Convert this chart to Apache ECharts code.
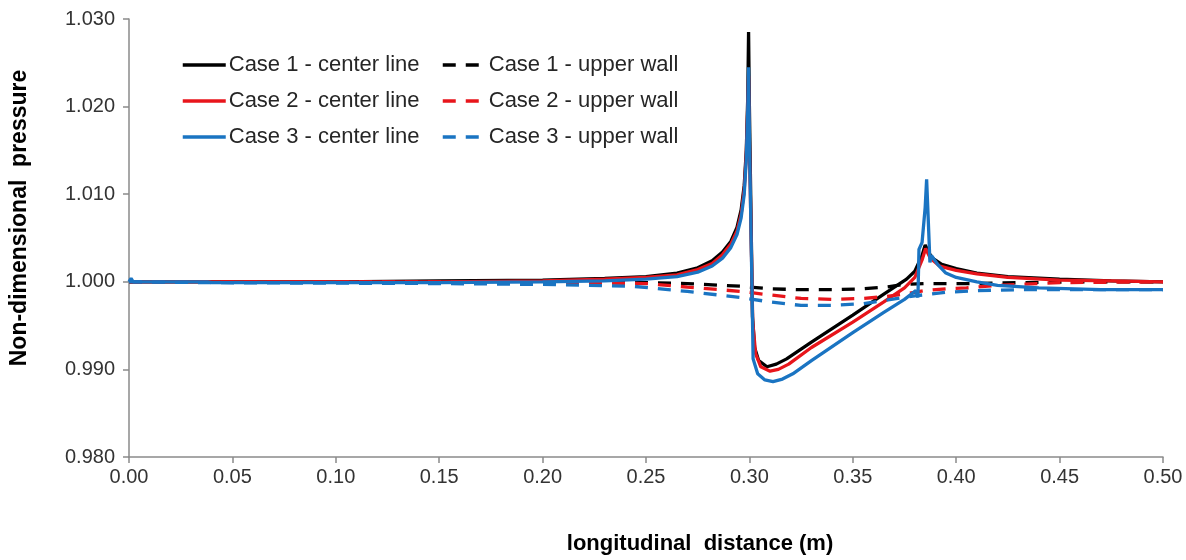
<!DOCTYPE html>
<html>
<head>
<meta charset="utf-8">
<script src="https://cdn.jsdelivr.net/npm/echarts@6/dist/echarts.min.js"></script>
<style>
  html, body { margin: 0; padding: 0; background: #fff; }
  #chart { width: 1186px; height: 560px; }
</style>
</head>
<body>
<div id="chart"></div>
<script>
// x positions (m) and non-dimensional pressure
var c1X = [0, 0.05, 0.10, 0.15, 0.20, 0.23, 0.25, 0.265, 0.275, 0.282, 0.287, 0.291, 0.294, 0.296, 0.2975, 0.2985, 0.2992, 0.2996, 0.3000, 0.3015, 0.3025, 0.3045, 0.3085, 0.3130, 0.318, 0.33, 0.35, 0.365, 0.376, 0.380, 0.3835, 0.385, 0.388, 0.393, 0.40, 0.41, 0.425, 0.45, 0.475, 0.50];
var c1Y = [1.0000, 1.0000, 1.0000, 1.0001, 1.0002, 1.0004, 1.0006, 1.0010, 1.0016, 1.0024, 1.0034, 1.0046, 1.0062, 1.0082, 1.0110, 1.0150, 1.0210, 1.0285, 1.0200, 0.9960, 0.9925, 0.9910, 0.9903, 0.9906, 0.9912, 0.9931, 0.9962, 0.9986, 1.0003, 1.0012, 1.0030, 1.0042, 1.0028, 1.0020, 1.0015, 1.0010, 1.0006, 1.0003, 1.0001, 1.0000];

var c2X = [0, 0.05, 0.10, 0.15, 0.20, 0.23, 0.25, 0.265, 0.275, 0.282, 0.287, 0.291, 0.294, 0.296, 0.2975, 0.2985, 0.2992, 0.2996, 0.3000, 0.3016, 0.3030, 0.3055, 0.3100, 0.3140, 0.319, 0.33, 0.35, 0.365, 0.375, 0.380, 0.3835, 0.3852, 0.3875, 0.392, 0.40, 0.41, 0.425, 0.45, 0.475, 0.50];
var c2Y = [1.0000, 1.0000, 1.0000, 1.0000, 1.0001, 1.0003, 1.0005, 1.0008, 1.0014, 1.0021, 1.0031, 1.0043, 1.0058, 1.0077, 1.0105, 1.0145, 1.0200, 1.0235, 1.0160, 0.9955, 0.9918, 0.9903, 0.9898, 0.9900, 0.9906, 0.9925, 0.9954, 0.9977, 0.9993, 1.0005, 1.0025, 1.0038, 1.0027, 1.0018, 1.0013, 1.0009, 1.0005, 1.0002, 1.0001, 1.0000];

var c3X = [0, 0.001, 0.002, 0.038, 0.040, 0.15, 0.20, 0.23, 0.25, 0.265, 0.275, 0.282, 0.287, 0.291, 0.294, 0.296, 0.2975, 0.2985, 0.2992, 0.2996, 0.3001, 0.3012, 0.3018, 0.3040, 0.3075, 0.3114, 0.3160, 0.3210, 0.33, 0.35, 0.365, 0.375, 0.3805, 0.3815, 0.3820, 0.3835, 0.3850, 0.3857, 0.3865, 0.3870, 0.3873, 0.3880, 0.391, 0.395, 0.40, 0.41, 0.42, 0.44, 0.47, 0.50];
var c3Y = [1.0000, 1.0004, 1.0000, 1.0000, 0.9999, 0.9999, 1.0000, 1.0001, 1.0003, 1.0006, 1.0011, 1.0018, 1.0027, 1.0039, 1.0054, 1.0073, 1.0100, 1.0140, 1.0195, 1.0245, 1.0150, 1.0000, 0.9912, 0.9895, 0.9888, 0.9886, 0.9889, 0.9895, 0.9910, 0.9942, 0.9965, 0.9980, 0.9990, 0.9982, 1.0037, 1.0045, 1.0085, 1.0117, 1.0070, 1.0040, 1.0022, 1.0030, 1.0020, 1.0010, 1.0005, 1.0000, 0.9996, 0.9993, 0.9991, 0.9991];

var w1X = [0, 0.15, 0.22, 0.25, 0.27, 0.2955, 0.31, 0.325, 0.34, 0.355, 0.366, 0.375, 0.385, 0.395, 0.41, 0.43, 0.46, 0.50];
var w1Y = [1.0000, 1.0000, 0.9999, 0.9999, 0.9998, 0.9995, 0.9992, 0.9991, 0.9991, 0.9992, 0.9994, 0.9997, 0.9998, 0.9998, 0.9998, 0.9999, 1.0000, 1.0000];

var w2X = [0, 0.15, 0.22, 0.25, 0.27, 0.296, 0.31, 0.325, 0.34, 0.355, 0.365, 0.375, 0.385, 0.395, 0.405, 0.42, 0.45, 0.50];
var w2Y = [1.0000, 1.0000, 0.9999, 0.9998, 0.9994, 0.9989, 0.9985, 0.9981, 0.9980, 0.9981, 0.9983, 0.9986, 0.9990, 0.9992, 0.9993, 0.9996, 0.9999, 1.0000];

var w3X = [0, 0.04, 0.15, 0.20, 0.243, 0.27, 0.296, 0.31, 0.325, 0.34, 0.355, 0.363, 0.38, 0.395, 0.41, 0.43, 0.46, 0.50];
var w3Y = [1.0000, 0.9999, 0.9998, 0.9997, 0.9995, 0.9989, 0.9982, 0.9977, 0.9973, 0.9973, 0.9975, 0.9978, 0.9984, 0.9988, 0.9990, 0.9991, 0.9991, 0.9991];

var seriesNames = ['Case 1 - center line', 'Case 1 - upper wall', 'Case 2 - center line', 'Case 2 - upper wall', 'Case 3 - center line', 'Case 3 - upper wall'];
var seriesColors = ['#000000', '#000000', '#e8151b', '#e8151b', '#1a74c2', '#1a74c2'];

function pairs(xs, ys) {
  var out = [];
  for (var i = 0; i < xs.length; i++) out.push([xs[i], ys[i]]);
  return out;
}

var lineData = [pairs(c1X, c1Y), pairs(w1X, w1Y), pairs(c2X, c2Y), pairs(w2X, w2Y), pairs(c3X, c3Y), pairs(w3X, w3Y)];

var series = [];
for (var i = 0; i < seriesNames.length; i++) {
  var dashed = i % 2 === 1;
  series.push({
    name: seriesNames[i],
    type: 'line',
    data: lineData[i],
    symbol: 'none',
    showSymbol: false,
    animation: false,
    color: seriesColors[i],
    lineStyle: { width: 3.3, color: seriesColors[i], type: dashed ? [13, 10] : 'solid' }
  });
}

var chart = echarts.init(document.getElementById('chart'));
var axisColor = '#8a8a8a';
var labelStyle = { fontFamily: 'Liberation Sans', fontSize: 20, color: '#333' };
var legendText = { fontFamily: 'Liberation Sans', fontSize: 22, color: '#262626', padding: [0, 0, 0, -2] };

chart.setOption({
  backgroundColor: '#fff',
  animation: false,
  grid: { left: 129, right: 23, top: 19, bottom: 101, containLabel: false },
  legend: [
    {
      data: [seriesNames[0], seriesNames[2], seriesNames[4]],
      orient: 'vertical', left: 176, top: 49,
      itemWidth: 43, itemHeight: 14, itemGap: 14,
      itemStyle: { opacity: 0 },
      lineStyle: { width: 3.5 },
      textStyle: legendText
    },
    {
      data: [seriesNames[1], seriesNames[3], seriesNames[5]],
      orient: 'vertical', left: 436, top: 49,
      itemWidth: 43, itemHeight: 14, itemGap: 14,
      itemStyle: { opacity: 0 },
      lineStyle: { width: 3.5 },
      textStyle: legendText
    }
  ],
  xAxis: {
    type: 'value', min: 0, max: 0.5, interval: 0.05,
    name: 'longitudinal  distance (m)',
    nameLocation: 'middle', nameGap: 76,
    nameTextStyle: { fontFamily: 'Liberation Sans', fontWeight: 'bold', fontSize: 22, color: '#000', padding: [0, 0, 0, 108] },
    axisLine: { lineStyle: { color: axisColor, width: 1.5 } },
    axisTick: { show: true, inside: false, length: 6, lineStyle: { color: axisColor, width: 1.5 } },
    axisLabel: Object.assign({ margin: 10, formatter: function (v) { return v.toFixed(2); } }, labelStyle),
    splitLine: { show: false }
  },
  yAxis: {
    type: 'value', min: 0.98, max: 1.03, interval: 0.01,
    name: 'Non-dimensional  pressure',
    nameLocation: 'middle', nameGap: 98, nameRotate: 90,
    nameTextStyle: { fontFamily: 'Liberation Sans', fontWeight: 'bold', fontSize: 23, color: '#000', padding: [0, 0, 0, 40] },
    axisLine: { show: true, lineStyle: { color: axisColor, width: 1.5 } },
    axisTick: { show: true, inside: false, length: 6, lineStyle: { color: axisColor, width: 1.5 } },
    axisLabel: Object.assign({ margin: 14, formatter: function (v) { return v.toFixed(3); } }, labelStyle),
    splitLine: { show: false }
  },
  series: series
});
</script>
</body>
</html>
